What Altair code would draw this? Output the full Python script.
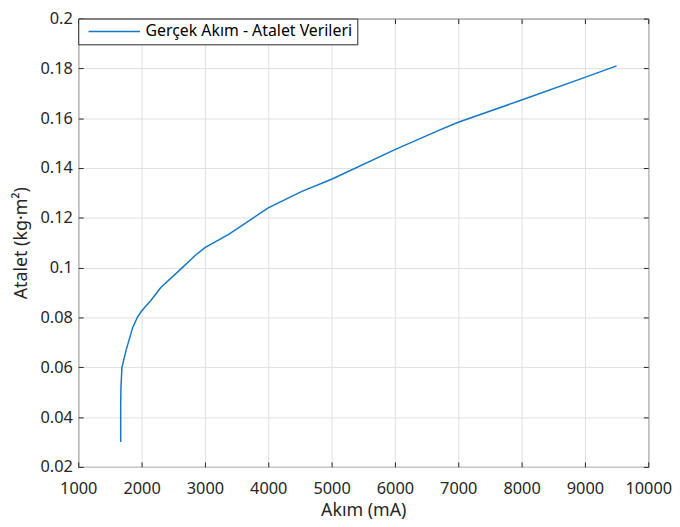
import altair as alt
import pandas as pd

akim = [1670, 1670, 1674, 1690, 1757, 1860, 1937, 2000, 2146, 2304, 2643, 2850,
        3000, 3375, 4000, 4523, 5000, 6000, 6711, 7000, 8000, 9000, 9500]
atalet = [0.030, 0.045, 0.052, 0.060, 0.067, 0.076, 0.0802, 0.0826, 0.0868, 0.092,
          0.100, 0.105, 0.108, 0.1134, 0.124, 0.1305, 0.1355, 0.1474, 0.1553,
          0.1584, 0.1673, 0.1764, 0.181]
series_name = "Gerçek Akım - Atalet Verileri"
x_ticks = [1000, 2000, 3000, 4000, 5000, 6000, 7000, 8000, 9000, 10000]
y_ticks = [0.02, 0.04, 0.06, 0.08, 0.1, 0.12, 0.14, 0.16, 0.18, 0.2]

df = pd.DataFrame({"akim": akim, "atalet": atalet, "seri": [series_name] * len(akim)})

FONT = "Noto Sans"
TXT = "#262626"
GRID = "#e0e0e0"

xscale = alt.Scale(domain=[1000, 10000], nice=False, zero=False)
yscale = alt.Scale(domain=[0.02, 0.2], nice=False, zero=False)

main = alt.Chart(df).mark_line(strokeWidth=1.5).encode(
    x=alt.X("akim:Q", scale=xscale,
            axis=alt.Axis(title="Akım (mA)", values=x_ticks, format="d",
                          orient="bottom", offset=-5, tickSize=5, domain=False,
                          tickColor=TXT, labelPadding=14, labelFlush=False,
                          grid=True, gridColor=GRID, titlePadding=5)),
    y=alt.Y("atalet:Q", scale=yscale,
            axis=alt.Axis(title="Atalet (kg·m²)", values=y_ticks, format="~g",
                          orient="left", offset=-5, tickSize=5, domain=False,
                          tickColor=TXT, labelPadding=6, labelFlush=False,
                          grid=True, gridColor=GRID, titlePadding=10)),
    color=alt.Color("seri:N", scale=alt.Scale(range=["#1677c4"]),
                    legend=alt.Legend(title=None, orient="top-left", offset=0,
                                      strokeColor=TXT, fillColor="white",
                                      padding=5, symbolType="M-1,0H19",
                                      symbolSize=27, symbolStrokeWidth=1.5,
                                      labelFont=FONT, labelFontSize=16,
                                      labelColor="black", labelOffset=47,
                                      labelExpr="datum.label + '   '",
                                      labelLimit=0, cornerRadius=0)),
)

frame = alt.Chart(df).mark_line(opacity=0).encode(
    x=alt.X("akim:Q", scale=xscale,
            axis=alt.Axis(title=None, values=x_ticks, labels=False, orient="top",
                          offset=-5, tickSize=5, domain=False, tickColor=TXT,
                          grid=False)),
    y=alt.Y("atalet:Q", scale=yscale,
            axis=alt.Axis(title=None, values=y_ticks, labels=False, orient="right",
                          offset=-5, tickSize=5, domain=False, tickColor=TXT,
                          grid=False)),
)

chart = alt.layer(main, frame).resolve_axis(x="independent", y="independent").properties(
    width=576, height=453, background="white",
    padding={"left": 4, "top": 0, "right": 0, "bottom": 0},
).configure_view(
    stroke=TXT, strokeWidth=1
).configure_axis(
    labelFont=FONT, labelFontSize=16.5, labelColor=TXT,
    titleFont=FONT, titleFontSize=18, titleColor=TXT, titleFontWeight="normal",
)

chart.save("out.html", embed_options={"renderer": "svg", "actions": False})
